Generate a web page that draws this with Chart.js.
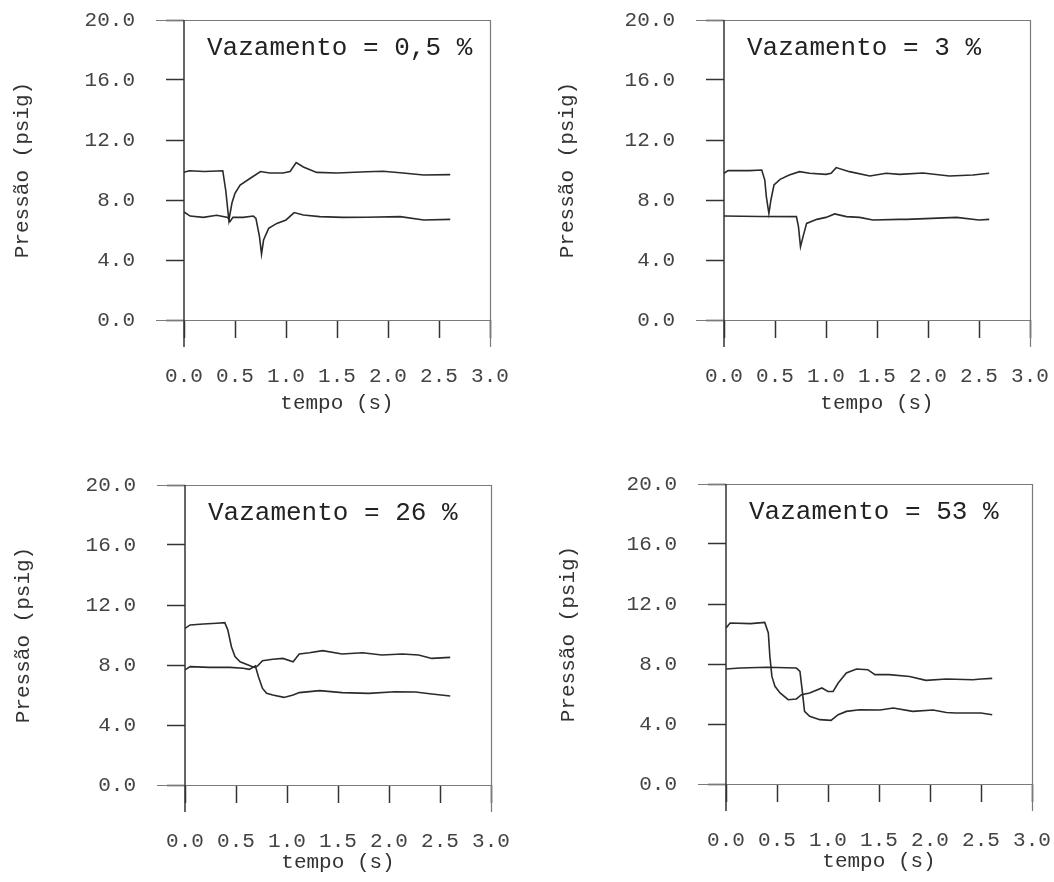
<!DOCTYPE html>
<html>
<head>
<meta charset="utf-8">
<script src="https://cdn.jsdelivr.net/npm/chart.js@4.4.1/dist/chart.umd.min.js"></script>
<style>
  html, body { margin: 0; padding: 0; background: #fff; width: 1054px; height: 882px; overflow: hidden; }
  body { position: relative; }
  canvas { position: absolute; }
</style>
</head>
<body>
<canvas id="g05" width="512" height="420" style="left:0px;top:0px"></canvas>
<canvas id="g3" width="512" height="420" style="left:540px;top:0px"></canvas>
<canvas id="g26" width="512" height="420" style="left:1px;top:465px"></canvas>
<canvas id="g53" width="512" height="420" style="left:542px;top:464px"></canvas>
<script>
// eixos
const tempoTicks = [0, 0.5, 1, 1.5, 2, 2.5, 3];
const pressaoTicks = [0, 4, 8, 12, 16, 20];

// Vazamento = 0,5 %
const t05Sup = [0, 0.05, 0.2, 0.38, 0.41, 0.44, 0.47, 0.5, 0.55, 0.65, 0.75, 0.84, 0.97, 1.04, 1.1, 1.17, 1.3, 1.5, 1.79, 1.95, 2.12, 2.35, 2.61];
const p05Sup = [9.85, 9.95, 9.9, 9.95, 8.6, 6.65, 7.8, 8.45, 9.0, 9.45, 9.9, 9.8, 9.8, 9.9, 10.5, 10.2, 9.84, 9.8, 9.88, 9.92, 9.82, 9.67, 9.69];
const t05Inf = [0, 0.06, 0.19, 0.32, 0.43, 0.45, 0.48, 0.58, 0.68, 0.705, 0.74, 0.76, 0.78, 0.83, 0.91, 1.0, 1.08, 1.17, 1.33, 1.56, 1.79, 2.12, 2.35, 2.61];
const p05Inf = [7.2, 6.93, 6.84, 6.98, 6.84, 6.56, 6.84, 6.84, 6.93, 6.78, 5.56, 4.4, 5.33, 6.11, 6.44, 6.67, 7.16, 7.0, 6.89, 6.84, 6.85, 6.89, 6.67, 6.71];

// Vazamento = 3 %
const t3Sup = [0, 0.04, 0.25, 0.37, 0.4, 0.415, 0.44, 0.46, 0.49, 0.55, 0.64, 0.74, 0.84, 1.0, 1.05, 1.1, 1.23, 1.43, 1.59, 1.72, 1.95, 2.21, 2.44, 2.6];
const p3Sup = [9.78, 9.96, 9.96, 10.0, 9.33, 8.22, 7.1, 8.0, 9.0, 9.38, 9.67, 9.89, 9.78, 9.71, 9.78, 10.16, 9.89, 9.6, 9.78, 9.71, 9.8, 9.6, 9.67, 9.78];
const t3Inf = [0, 0.35, 0.71, 0.73, 0.75, 0.775, 0.81, 0.91, 1.0, 1.085, 1.2, 1.33, 1.46, 1.72, 1.79, 2.28, 2.5, 2.6];
const p3Inf = [6.93, 6.9, 6.89, 6.22, 4.89, 5.56, 6.44, 6.71, 6.84, 7.07, 6.89, 6.84, 6.67, 6.71, 6.71, 6.84, 6.67, 6.71];

// Vazamento = 26 %
const t26Sup = [0, 0.05, 0.18, 0.31, 0.39, 0.42, 0.455, 0.49, 0.54, 0.62, 0.68, 0.71, 0.76, 0.86, 0.96, 1.06, 1.12, 1.22, 1.35, 1.54, 1.74, 1.93, 2.13, 2.29, 2.42, 2.6];
const p26Sup = [10.44, 10.67, 10.73, 10.78, 10.82, 10.33, 9.22, 8.56, 8.22, 8.0, 7.84, 7.93, 8.29, 8.38, 8.44, 8.22, 8.73, 8.82, 8.96, 8.73, 8.82, 8.67, 8.73, 8.67, 8.44, 8.51];
const t26Inf = [0, 0.05, 0.24, 0.44, 0.57, 0.63, 0.69, 0.72, 0.76, 0.8, 0.86, 0.97, 1.06, 1.12, 1.32, 1.54, 1.8, 2.06, 2.26, 2.42, 2.6];
const p26Inf = [7.67, 7.89, 7.84, 7.84, 7.78, 7.71, 7.93, 7.22, 6.44, 6.11, 6.0, 5.84, 6.0, 6.16, 6.29, 6.16, 6.11, 6.22, 6.2, 6.07, 5.93];

// Vazamento = 53 %
const t53Sup = [0, 0.04, 0.24, 0.38, 0.415, 0.43, 0.45, 0.48, 0.53, 0.61, 0.69, 0.74, 0.82, 0.94, 1.0, 1.05, 1.1, 1.18, 1.28, 1.39, 1.46, 1.6, 1.8, 1.96, 2.16, 2.42, 2.5, 2.61];
const p53Sup = [10.4, 10.73, 10.69, 10.77, 10.07, 8.51, 7.17, 6.51, 6.07, 5.62, 5.67, 5.95, 6.07, 6.4, 6.17, 6.17, 6.73, 7.4, 7.67, 7.62, 7.29, 7.29, 7.17, 6.91, 7.0, 6.95, 7.0, 7.04];
const t53Inf = [0, 0.14, 0.4, 0.69, 0.725, 0.75, 0.77, 0.82, 0.92, 1.03, 1.1, 1.18, 1.31, 1.51, 1.64, 1.83, 2.03, 2.16, 2.25, 2.5, 2.61];
const p53Inf = [7.67, 7.73, 7.78, 7.73, 7.51, 6.07, 4.84, 4.51, 4.29, 4.24, 4.62, 4.84, 4.95, 4.93, 5.07, 4.84, 4.93, 4.77, 4.73, 4.73, 4.62];

const fonte = '"Liberation Mono", "Courier New", monospace';

// moldura: linhas de 0 e 20 prolongadas para a esquerda, verticais para baixo
const moldura = {
  id: 'moldura',
  beforeDatasetsDraw(chart) {
    const { ctx, chartArea: { left, right, top, bottom } } = chart;
    ctx.save();
    ctx.strokeStyle = '#7a7a7a';
    ctx.lineWidth = 1.2;
    ctx.beginPath();
    ctx.moveTo(left - 28, top + 0.5); ctx.lineTo(right, top + 0.5);
    ctx.moveTo(left - 28, bottom + 0.5); ctx.lineTo(right, bottom + 0.5);
    ctx.moveTo(right + 0.5, top); ctx.lineTo(right + 0.5, bottom + 27);
    ctx.stroke();
    ctx.strokeStyle = '#333';
    ctx.lineWidth = 1.5;
    ctx.beginPath();
    ctx.moveTo(left, top); ctx.lineTo(left, bottom + 27);
    ctx.stroke();
    ctx.restore();
  }
};

const rotulo = {
  id: 'rotulo',
  afterDatasetsDraw(chart, args, opts) {
    const { ctx, chartArea } = chart;
    ctx.save();
    ctx.font = '26px ' + fonte;
    ctx.fillStyle = '#222';
    ctx.textBaseline = 'middle';
    ctx.fillText(opts.text, chartArea.left + 23, chartArea.top + 28);
    ctx.restore();
  }
};

function serie(t, p) {
  return {
    data: t.map((x, i) => ({ x: x, y: p[i] })),
    borderColor: '#2b2b2b',
    borderWidth: 1.6,
    pointRadius: 0,
    tension: 0,
    fill: false,
  };
}

function grafico(id, texto, sup, inf, yPad, xPad) {
  new Chart(document.getElementById(id), {
    type: 'line',
    data: { datasets: [serie(sup[0], sup[1]), serie(inf[0], inf[1])] },
    plugins: [moldura, rotulo],
    options: {
      responsive: false,
      animation: false,
      layout: { padding: { left: 0, top: 20, right: 22, bottom: 0 } },
      scales: {
        x: {
          type: 'linear',
          min: 0,
          max: 3,
          afterBuildTicks: (s) => { s.ticks = tempoTicks.map(v => ({ value: v })); },
          afterFit: (s) => { s.height = 100; s.paddingLeft = 0; s.paddingRight = 0; },
          ticks: {
            autoSkip: false, maxRotation: 0, padding: 26,
            callback: v => Number(v).toFixed(1),
            color: '#444', font: { family: fonte, size: 21 },
          },
          grid: { drawOnChartArea: false, tickLength: 18, tickColor: '#333', tickWidth: 1.5 },
          border: { display: false },
          title: {
            display: true, text: 'tempo (s)', color: '#333',
            font: { family: fonte, size: 21 }, padding: { top: 0, bottom: xPad },
          },
        },
        y: {
          min: 0,
          max: 20,
          afterBuildTicks: (s) => { s.ticks = pressaoTicks.map(v => ({ value: v })); },
          afterFit: (s) => { s.width = 184; s.paddingTop = 0; s.paddingBottom = 0; },
          ticks: {
            padding: 31,
            callback: v => Number(v).toFixed(1),
            color: '#444', font: { family: fonte, size: 21 },
          },
          grid: { drawOnChartArea: false, tickLength: 18, tickColor: '#333', tickWidth: 1.5 },
          border: { display: false },
          title: {
            display: true, text: 'Pressão (psig)', color: '#333',
            font: { family: fonte, size: 21 }, padding: { top: yPad, bottom: 0 },
          },
        },
      },
      plugins: {
        legend: { display: false },
        tooltip: { enabled: false },
        rotulo: { text: texto },
      },
    },
  });
}

grafico('g05', 'Vazamento = 0,5 %', [t05Sup, p05Sup], [t05Inf, p05Inf], 10, 4);
grafico('g3', 'Vazamento = 3 %', [t3Sup, p3Sup], [t3Inf, p3Inf], 15, 4);
grafico('g26', 'Vazamento = 26 %', [t26Sup, p26Sup], [t26Inf, p26Inf], 10, 10);
grafico('g53', 'Vazamento = 53 %', [t53Sup, p53Sup], [t53Inf, p53Inf], 14, 10);
</script>
</body>
</html>
